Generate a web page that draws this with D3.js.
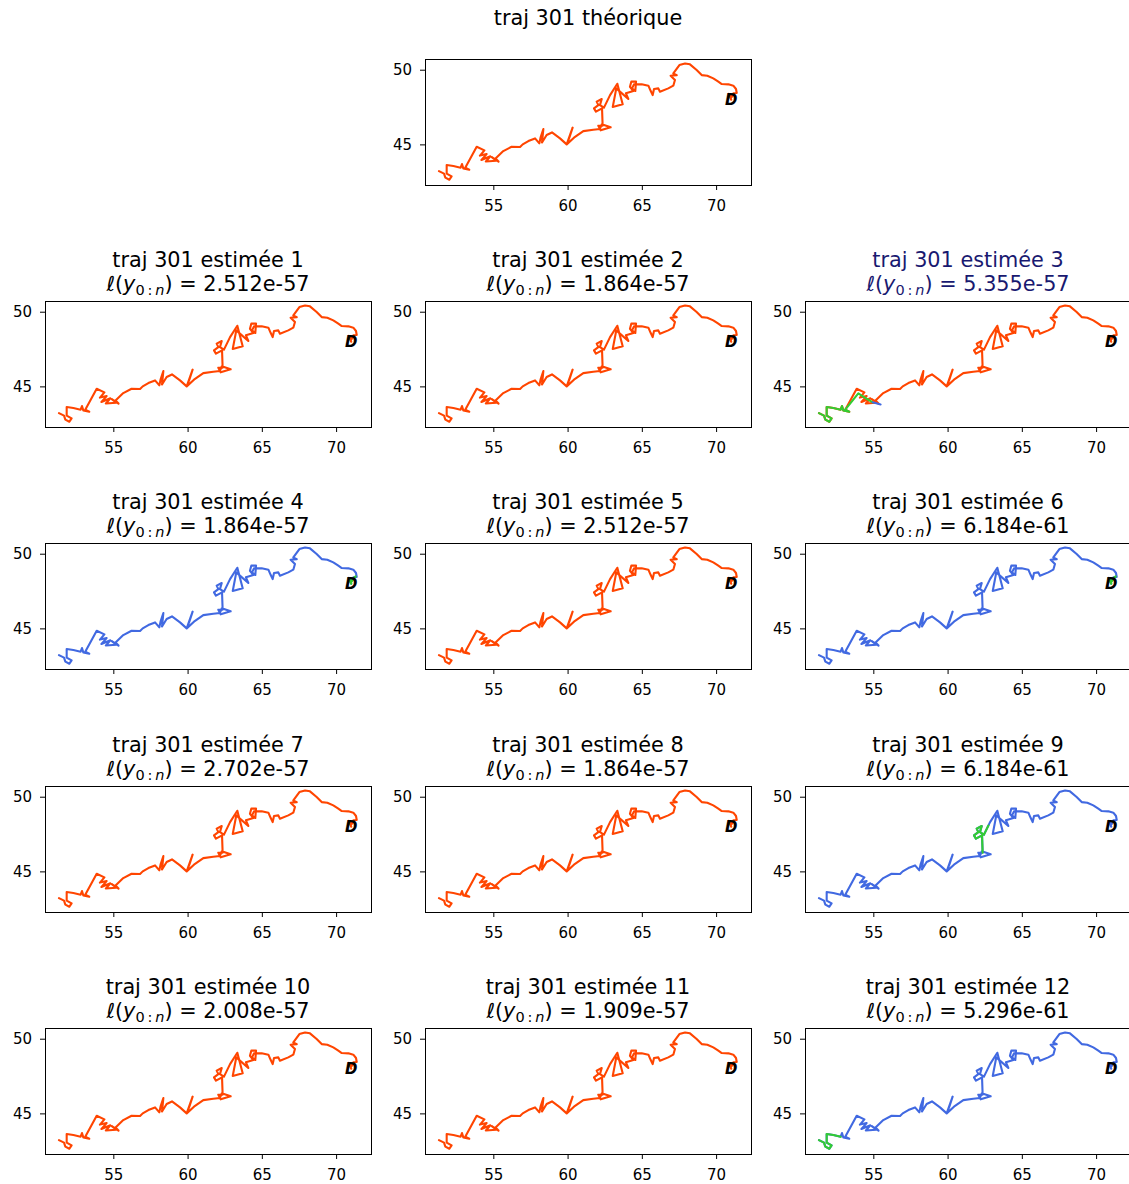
<!DOCTYPE html>
<html><head><meta charset="utf-8">
<script src="https://cdn.jsdelivr.net/npm/d3@7"></script>
<style>
body{margin:0;background:#fff}
text{font-family:"DejaVu Sans",sans-serif;white-space:pre}
</style>
</head><body>
<svg id="c" width="1129" height="1184"></svg>
<script>
// trajectory (lon, lat) from the far end to the departure point D
const trajLon = [51.34,51.68,51.77,52.04,52.19,51.86,51.86,52.31,52.80,52.89,52.98,53.38,53.11,
 53.88,54.40,54.10,54.55,54.20,54.80,54.50,55.20,54.90,55.35,55.15,55.67,
 56.23,56.80,56.98,57.36,57.81,58.10,58.19,58.37,58.28,58.59,58.95,59.49,59.94,60.16,60.34,60.12,
 59.94,60.43,61.06,61.73,62.18,62.30,62.90,62.23,62.07,62.36,62.32,61.91,61.78,62.07,61.96,62.30,
 62.18,62.45,
 62.86,63.35,63.71,63.04,63.28,64.09,63.93,64.43,64.20,64.29,64.61,64.56,64.34,64.47,
 64.99,65.44,65.60,65.73,65.82,66.11,66.22,66.78,67.12,67.23,66.94,67.35,67.12,67.53,67.91,68.24,
 68.69,69.03,69.41,69.81,70.15,70.38,70.83,71.16,71.34,71.39,71.16,71.05,70.85,71.02];
const trajLat = [43.21,43.04,42.77,42.63,42.86,43.04,43.62,43.55,43.44,43.68,43.39,43.30,43.44,
 44.84,44.60,44.25,44.35,43.95,44.20,43.85,43.90,44.15,43.85,44.05,44.55,
 44.84,44.82,45.00,45.22,45.40,45.07,45.49,46.03,45.13,45.63,45.80,45.40,45.00,45.63,46.12,45.45,
 45.00,45.45,45.89,45.98,46.03,46.34,46.14,45.94,46.25,46.25,47.41,47.19,47.41,47.63,47.86,48.04,
 47.63,47.46,
 48.30,49.06,47.68,47.50,48.75,48.04,48.42,48.57,48.86,49.20,49.20,48.57,48.75,49.02,
 49.02,48.93,48.57,48.30,48.71,48.75,48.53,48.75,48.93,49.31,49.60,49.64,49.75,50.31,50.42,50.36,
 49.98,49.64,49.60,49.42,49.20,49.04,49.02,48.93,48.71,48.44,48.42,48.17,48.39,47.99];

const xTicks = [55, 60, 65, 70];
const yTicks = [45, 50];
const estNumbers = [1,2,3,4,5,6,7,8,9,10,11,12];
const estLik = ["2.512e-57","1.864e-57","5.355e-57","1.864e-57","2.512e-57","6.184e-61",
                "2.702e-57","1.864e-57","6.184e-61","2.008e-57","1.909e-57","5.296e-61"];
const estColor = ["red","red","red","blue","red","blue","red","red","blue","red","red","blue"];
const bestEst = 3;

// differing parts of some estimates
const green3Idx = [0, 12];
const green3ExtraLon = [53.99, 54.55, 54.96];
const green3ExtraLat = [44.53, 44.17, 43.93];
const blue3Lon = [54.96, 55.49];
const blue3Lat = [43.93, 43.79];
const green9Idx = [50, 58];
const green9ExtraLon = [62.75];
const green9ExtraLat = [48.07];
const green12Idx = [0, 8];
const greenDLon = [71.32, 71.16, 71.05, 70.85, 71.02];
const greenDLat = [48.48, 48.35, 48.13, 48.35, 47.99];

const COL = {red:"#FF4500", blue:"#4169E1", green:"#32CD32"};
const svg = d3.select("#c");
const W = 326, H = 126;
const xDom = [50.40, 72.35], yDom = [42.28, 50.717];

function pts(lons, lats){ return lons.map((d,i)=>[d, lats[i]]); }
const traj = pts(trajLon, trajLat);

function panel(left, top, title1, lik, color, titleColor, overlays){
  const g = svg.append("g");
  const x = d3.scaleLinear().domain(xDom).range([left, left+W]);
  const y = d3.scaleLinear().domain(yDom).range([top+H, top]);
  const line = d3.line().x(d=>x(d[0])).y(d=>y(d[1]));
  const drawLine = (data, c) => g.append("path").attr("d", line(data))
     .attr("fill","none").attr("stroke", COL[c]).attr("stroke-width",2.1)
     .attr("stroke-linejoin","round").attr("stroke-linecap","round");
  drawLine(traj, color);
  (overlays||[]).forEach(o => drawLine(o.data, o.color));
  // D marker at departure
  const s = traj[traj.length-1];
  g.append("text").attr("x", x(s[0])).attr("y", y(s[1])+5.5)
    .attr("text-anchor","middle").attr("font-size",15).attr("font-style","italic")
    .attr("font-weight","bold").attr("fill","#000").text("D");
  // axes
  const xa = g.append("g").attr("transform",`translate(0,${top+H})`)
    .call(d3.axisBottom(x).tickValues(xTicks).tickSize(5).tickPadding(5).tickFormat(d3.format("d")));
  const ya = g.append("g").attr("transform",`translate(${left},0)`)
    .call(d3.axisLeft(y).tickValues(yTicks).tickSize(5).tickPadding(8).tickFormat(d3.format("d")));
  [xa, ya].forEach(a => {
    a.select(".domain").remove();
    a.selectAll("text").attr("font-size",15).attr("font-family","DejaVu Sans").attr("fill","#000");
    a.selectAll("line").attr("stroke","#000").attr("stroke-width",1);
  });
  xa.selectAll("text").attr("dy", null).attr("y", 26).attr("dominant-baseline","auto");
  g.append("rect").attr("x",left+0.5).attr("y",top+0.5).attr("width",W).attr("height",H)
    .attr("fill","none").attr("stroke","#000").attr("stroke-width",1);
  // titles
  const cx = left + W/2;
  g.append("text").attr("x",cx).attr("y",top-34).attr("text-anchor","middle")
    .attr("font-size",20.8).attr("fill",titleColor).text(title1);
  if (lik){
    const t = g.append("text").attr("x",cx).attr("y",top-10).attr("text-anchor","middle")
      .attr("font-size",20.8).attr("fill",titleColor);
    t.append("tspan").attr("font-style","italic").text("\u2113");
    t.append("tspan").text("(");
    t.append("tspan").attr("font-style","italic").text("y");
    t.append("tspan").attr("font-size",14.5).attr("dy",4).text("0\u2009:\u2009");
    t.append("tspan").attr("font-size",14.5).attr("font-style","italic").text("n");
    t.append("tspan").attr("dy",-4).text(") = " + lik);
  }
}

// theoretical
panel(425, 59, "traj 301 théorique", null, "red", "#000", []);

const colLeft = [45, 425, 805];
const rowTop = [301, 543, 786, 1028];
function sub(idxRange){ return traj.slice(idxRange[0], idxRange[1]+1); }
estNumbers.forEach((n, i) => {
  const r = Math.floor(i/3), c = i%3;
  let ov = [];
  if (n === 3) ov = [{data: sub(green3Idx).concat(pts(green3ExtraLon, green3ExtraLat)), color:"green"},
                     {data: pts(blue3Lon, blue3Lat), color:"blue"}];
  if (n === 4 || n === 6) ov = [{data: pts(greenDLon, greenDLat), color:"green"}];
  if (n === 9) ov = [{data: sub(green9Idx).concat(pts(green9ExtraLon, green9ExtraLat)), color:"green"}];
  if (n === 12) ov = [{data: sub(green12Idx), color:"green"}];
  panel(colLeft[c], rowTop[r], "traj 301 estimée " + n, estLik[i], estColor[i],
        n === bestEst ? "#191970" : "#000", ov);
});
</script>
</body></html>
